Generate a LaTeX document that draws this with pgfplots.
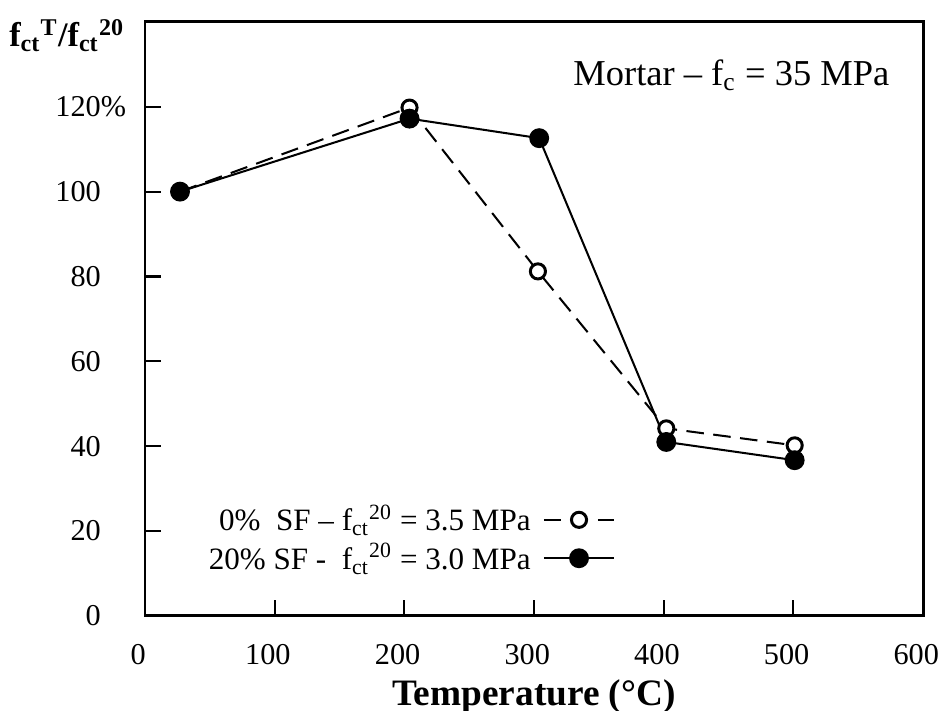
\documentclass[border=0pt]{standalone}
\usepackage{fontspec}
\setmainfont{Liberation Serif}
\usepackage{pgfplots}
\pgfplotsset{compat=1.18}

% Relative splitting tensile strength of mortar after heating
\pgfplotstableread{
T    r
27   100
204  119.8
303  81.2
402  44.2
501  40.2
}\plainmortar
\pgfplotstableread{
T    r
27   100
204  117.2
304  112.6
402  41.0
501  36.7
}\sfmortar

\begin{document}
\begin{tikzpicture}
\path[use as bounding box] (-53.65pt,-35.15pt) rectangle (297.5pt,227.9pt);
\begin{axis}[
  scale only axis,
  width=287.9pt, height=219.8pt,
  xmin=0, xmax=600, ymin=0, ymax=140,
  axis line style={line width=1.1pt},
  xtick={0,100,...,600},
  ytick={0,20,...,120},
  yticklabels={0,20,40,60,80,100,120\rlap{\%}},
  tick align=inside,
  xtick pos=bottom, ytick pos=left,
  major tick length=6pt,
  tick style={line width=0.8pt, black},
  /pgf/number format/assume math mode=true,
  ticklabel style={font=\fontsize{11.2}{13}\selectfont},
  yticklabel style={xshift=-12.8pt},
  xticklabel style={yshift=-7pt, xshift=-2.5pt},
  every axis x label/.style={at={(rel axis cs:0.5,0)}, anchor=base, yshift=-33.3pt},
  every axis y label/.style={at={(rel axis cs:0,1)}, anchor=base east, xshift=-7.4pt, yshift=-9.25pt, inner sep=0pt},
  xlabel={\fontsize{13.8}{16}\selectfont\bfseries Temperature (°C)},
  ylabel={\fontsize{12.7}{15}\selectfont\bfseries f\textsubscript{ct}\textsuperscript{T}/f\textsubscript{ct}\textsuperscript{20}},
  legend plot pos=right,
  legend cell align=right,
  legend image code/.code={\draw[mark repeat=2,mark phase=2] plot coordinates {(0pt,0pt) (13pt,0pt) (26pt,0pt)};},
  legend style={at={(rel axis cs:0.605,0.195)}, anchor=north east, draw=none, fill=none,
    font=\fontsize{11.5}{13.8}\selectfont, inner sep=0pt,
    nodes={inner sep=1.5pt},
    /tikz/every odd column/.append style={column sep=3pt}},
]
\addplot[black, line width=0.75pt, dash pattern=on 6.5pt off 3.5pt,
  mark=*, mark size=2.8pt, mark options={solid, fill=white, line width=1.1pt}]
  table[x=T, y=r] {\plainmortar};
\addlegendentry{0\%\ \ SF – f\textsubscript{ct}\textsuperscript{20} = 3.5 MPa}
\addplot[black, line width=0.75pt, mark=*, mark size=3.3pt, mark options={solid, fill=black}]
  table[x=T, y=r] {\sfmortar};
\addlegendentry{20\% SF -\ \ f\textsubscript{ct}\textsuperscript{20} = 3.0 MPa}
\node[anchor=base west, inner sep=0pt, font=\fontsize{13.5}{16}\selectfont]
  at (axis cs:330,125.1) {Mortar – f\textsubscript{c} = 35 MPa};
\end{axis}
\end{tikzpicture}
\end{document}
